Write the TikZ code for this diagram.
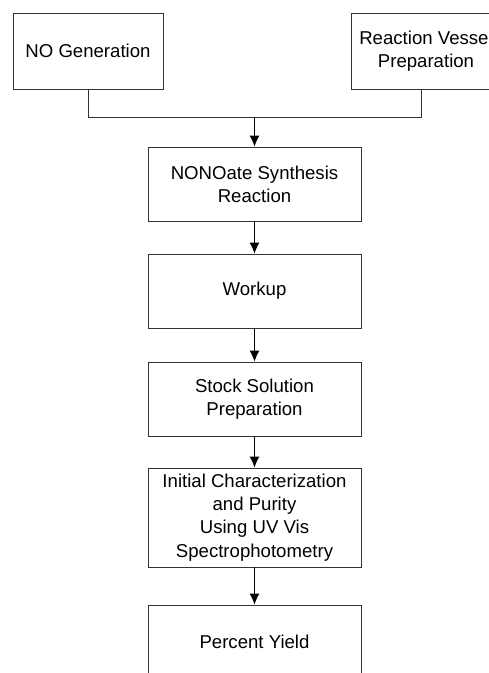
\documentclass[tikz,border=0pt]{standalone}
\usepackage{fontspec}
\setmainfont{Liberation Sans}
\usetikzlibrary{arrows.meta}

\tikzset{
  box/.style={draw=black!80, line width=0.9pt, inner sep=0pt, align=center,
    minimum width=213pt, minimum height=74pt, font=\fontsize{18.6}{23.3}\selectfont},
  topbox/.style={box, minimum width=150pt, minimum height=76pt},
  flow/.style={line width=0.9pt, -{Latex[length=11pt,width=10pt]}}
}

\begin{document}
\begin{tikzpicture}[x=1pt, y=-1pt]
\useasboundingbox (0,0) rectangle (489,673);
\clip (0,0) rectangle (489,673);
% top row
\node[topbox] (gen) at (88,51) {NO Generation};
\node[topbox] (vessel) at (426,51) {Reaction Vessel\\Preparation};
% main column
\node[box] (synth) at (254.5,184) {NONOate Synthesis\\Reaction};
\node[box] (workup) at (254.5,291) {Workup};
\node[box] (stock) at (254.5,399) {Stock Solution\\Preparation};
\node[box, minimum height=99pt] (charact) at (254.5,517.5) {Initial Characterization\\and Purity\\Using UV Vis\\Spectrophotometry};
\node[box] (yield) at (254.5,642) {Percent Yield};
% joining the two top boxes
\coordinate (join) at (254.5,117);
\coordinate (vtap) at (421,89);
\draw[line width=0.9pt, black!80] (gen.south) |- (vtap |- join) -- (vtap);
\draw[flow] (join) -- (synth.north);
\draw[flow] (synth) -- (workup);
\draw[flow] (workup) -- (stock);
\draw[flow] (stock) -- (charact);
\draw[flow] (charact) -- (yield);
\end{tikzpicture}
\end{document}
